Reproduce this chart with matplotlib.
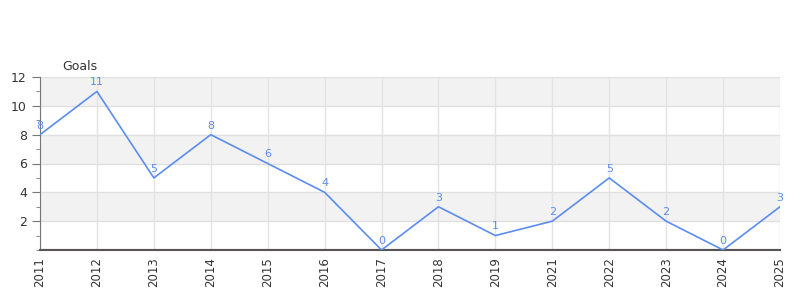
import matplotlib

matplotlib.use("Agg")
import matplotlib.pyplot as plt
from matplotlib.ticker import MultipleLocator

years = ["2011", "2012", "2013", "2014", "2015", "2016", "2017",
         "2018", "2019", "2021", "2022", "2023", "2024", "2025"]
goals = [8, 11, 5, 8, 6, 4, 0, 3, 1, 2, 5, 2, 0, 3]

LINE = "#5b8def"

fig = plt.figure(figsize=(8, 3), dpi=100)
ax = fig.add_axes([0.05, 0.1667, 0.925, 0.5766])

xs = list(range(len(years)))
ax.set_xlim(0, len(years) - 1)
ax.set_ylim(0, 12)

# alternating bands
for lo in (2, 6, 10):
    ax.axhspan(lo, lo + 2, color="#f2f2f2", zorder=0, lw=0)
for v in (2, 4, 6, 8, 10, 12):
    ax.axhline(v, color="#e0e0e0", lw=1, zorder=1)
for x in xs:
    ax.axvline(x, color="#e3e3e3", lw=1, zorder=1)

ax.plot(xs, goals, color=LINE, lw=1.2, zorder=3)
for x, g in zip(xs, goals):
    ax.annotate(str(g), (x, g), xytext=(0, 3), textcoords="offset points",
                ha="center", va="bottom", fontsize=8, color=LINE, zorder=4)

ax.axhline(0, color="#cc0000", lw=1.5, zorder=2)

ax.set_xticks(xs)
ax.set_xticklabels(years, rotation=90, fontsize=8.5, color="#333333")
ax.tick_params(axis="x", length=0, pad=5)
ax.set_yticks([2, 4, 6, 8, 10, 12])
ax.yaxis.set_minor_locator(MultipleLocator(1))
ax.tick_params(axis="y", which="major", length=6, color="#777777",
               labelsize=9, labelcolor="#333333")
ax.tick_params(axis="y", which="minor", length=3, color="#777777")

for s in ("top", "right"):
    ax.spines[s].set_visible(False)
ax.spines["left"].set_color("#777777")
ax.spines["bottom"].set_color("#555555")
ax.spines["bottom"].set_linewidth(1.5)

fig.text(0.0775, 0.767, "Goals", fontsize=9, color="#333333")

fig.savefig("out.png", dpi=100)
